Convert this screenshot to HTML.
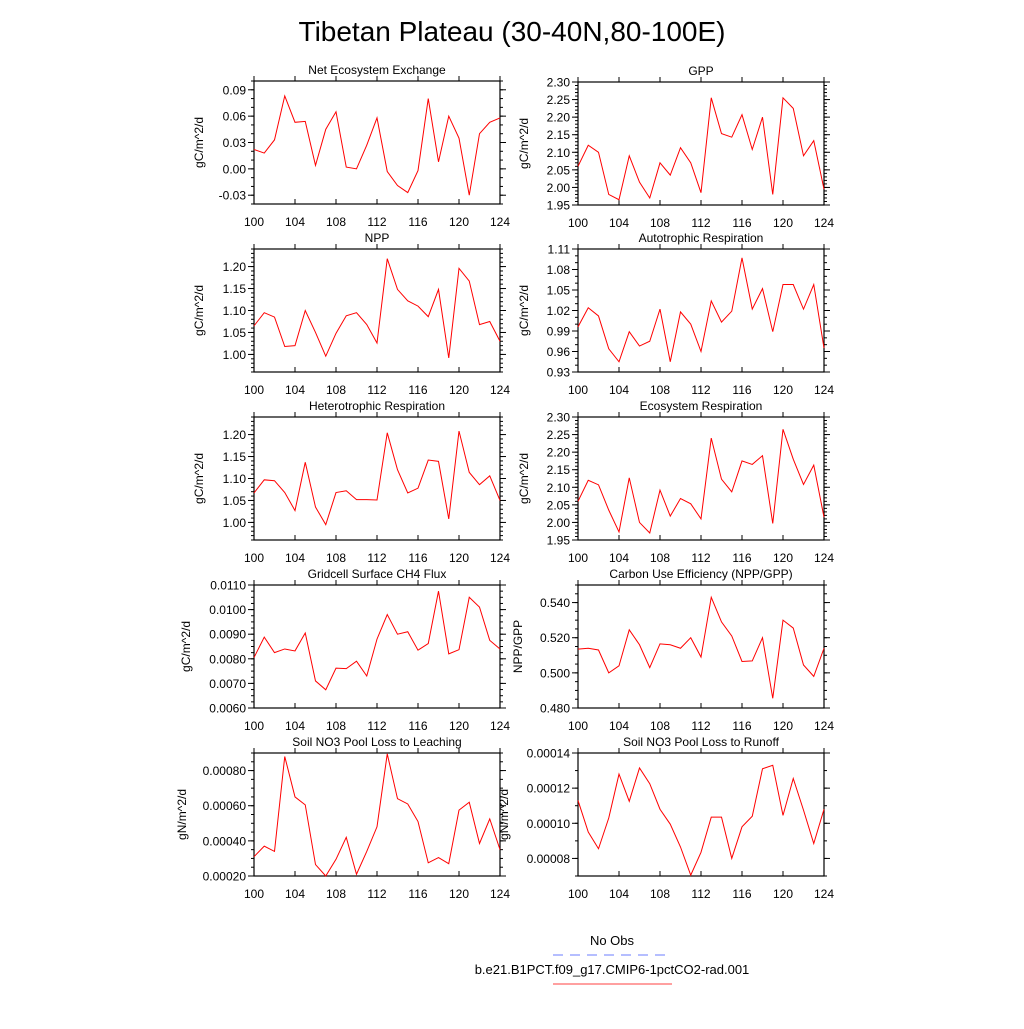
<!DOCTYPE html>
<html><head><meta charset="utf-8"><style>
body{margin:0;background:#fff}
svg text{font-family:"Liberation Sans",sans-serif;fill:#000}
</style></head><body>
<svg id="chart" width="1024" height="1024" viewBox="0 0 1024 1024" xmlns="http://www.w3.org/2000/svg">
<rect width="1024" height="1024" fill="#fff"/>
<text x="512" y="41" font-size="28" text-anchor="middle">Tibetan Plateau (30-40N,80-100E)</text>
<g>
<text x="612" y="945" font-size="13" text-anchor="middle">No Obs</text>
<line x1="553" y1="955" x2="672" y2="955" stroke="#6b7cff" stroke-width="1" stroke-dasharray="10,7"/>
<text x="612" y="974" font-size="13" text-anchor="middle">b.e21.B1PCT.f09_g17.CMIP6-1pctCO2-rad.001</text>
<line x1="553" y1="984" x2="672" y2="984" stroke="#ff4040" stroke-width="1"/>
</g>
</svg>
<script>
const years = [100,101,102,103,104,105,106,107,108,109,110,111,112,113,114,115,116,117,118,119,120,121,122,123,124];
const xTicks = [100,104,108,112,116,120,124];
const neeValues = [0.022,0.018,0.033,0.083,0.053,0.054,0.004,0.045,0.065,0.002,0.000,0.027,0.058,-0.003,-0.019,-0.027,-0.002,0.080,0.008,0.060,0.035,-0.030,0.040,0.053,0.058];
const neeTicks = ["0.09","0.06","0.03","0.00","-0.03"];
const gppValues = [2.06,2.12,2.10,1.98,1.965,2.09,2.015,1.97,2.07,2.035,2.113,2.07,1.985,2.255,2.153,2.143,2.207,2.108,2.20,1.98,2.255,2.225,2.09,2.133,1.995];
const gppTicks = ["2.30","2.25","2.20","2.15","2.10","2.05","2.00","1.95"];
const nppValues = [1.065,1.095,1.085,1.018,1.02,1.10,1.05,0.996,1.048,1.088,1.095,1.068,1.026,1.218,1.148,1.122,1.11,1.086,1.148,0.992,1.196,1.167,1.068,1.075,1.03];
const nppTicks = ["1.20","1.15","1.10","1.05","1.00"];
const arValues = [0.996,1.024,1.012,0.964,0.945,0.989,0.968,0.975,1.022,0.945,1.018,1.0,0.96,1.034,1.003,1.019,1.097,1.022,1.052,0.989,1.058,1.058,1.022,1.058,0.965];
const arTicks = ["1.11","1.08","1.05","1.02","0.99","0.96","0.93"];
const hrValues = [1.067,1.097,1.095,1.068,1.027,1.137,1.035,0.995,1.068,1.072,1.052,1.052,1.051,1.204,1.12,1.067,1.078,1.142,1.139,1.008,1.208,1.114,1.086,1.106,1.05];
const hrTicks = ["1.20","1.15","1.10","1.05","1.00"];
const erValues = [2.06,2.12,2.107,2.035,1.973,2.127,2.0,1.97,2.092,2.018,2.068,2.053,2.01,2.24,2.123,2.087,2.175,2.165,2.19,1.997,2.265,2.18,2.108,2.163,2.015];
const erTicks = ["2.30","2.25","2.20","2.15","2.10","2.05","2.00","1.95"];
const ch4Values = [0.00805,0.00888,0.00825,0.0084,0.00832,0.00905,0.0071,0.00674,0.00762,0.0076,0.0079,0.0073,0.0088,0.0098,0.0090,0.0091,0.00835,0.00862,0.01075,0.0082,0.00837,0.0105,0.0101,0.00875,0.0084];
const ch4Ticks = ["0.0110","0.0100","0.0090","0.0080","0.0070","0.0060"];
const cueValues = [0.5135,0.514,0.513,0.500,0.504,0.5245,0.516,0.503,0.5165,0.516,0.514,0.520,0.509,0.543,0.529,0.521,0.5065,0.5068,0.520,0.4855,0.530,0.5255,0.5045,0.498,0.514];
const cueTicks = ["0.540","0.520","0.500","0.480"];
const leachValues = [0.00031,0.00037,0.00034,0.00088,0.00065,0.000605,0.000265,0.00020,0.000295,0.00042,0.00021,0.00034,0.00048,0.000895,0.00064,0.00061,0.00051,0.000275,0.000305,0.00027,0.000575,0.00062,0.000385,0.000525,0.00035];
const leachTicks = ["0.00080","0.00060","0.00040","0.00020"];
const runoffValues = [0.000113,0.000095,0.0000855,0.000103,0.000128,0.0001125,0.0001315,0.0001225,0.000108,0.0000995,0.0000865,0.0000705,0.0000835,0.0001035,0.0001035,0.00008,0.000098,0.000104,0.000131,0.000133,0.0001045,0.0001255,0.0001075,0.0000885,0.000108];
const runoffTicks = ["0.00014","0.00012","0.00010","0.00008"];

const NS="http://www.w3.org/2000/svg";
const svg=document.getElementById('chart');
function mk(tag,attrs,parent){const e=document.createElementNS(NS,tag);for(const k in attrs)e.setAttribute(k,attrs[k]);parent.appendChild(e);return e;}

const panels=[
 {key:'nee',title:'Net Ecosystem Exchange',ylab:'gC/m^2/d',vals:neeValues,ticks:neeTicks,min:-0.04,max:0.10,minor:0.01,x:254,y:81,lo:55},
 {key:'gpp',title:'GPP',ylab:'gC/m^2/d',vals:gppValues,ticks:gppTicks,min:1.95,max:2.30,minor:0.01,x:578,y:82,lo:54},
 {key:'npp',title:'NPP',ylab:'gC/m^2/d',vals:nppValues,ticks:nppTicks,min:0.96,max:1.24,minor:0.01,x:254,y:249,lo:55},
 {key:'ar',title:'Autotrophic Respiration',ylab:'gC/m^2/d',vals:arValues,ticks:arTicks,min:0.93,max:1.11,minor:0.01,x:578,y:249,lo:54},
 {key:'hr',title:'Heterotrophic Respiration',ylab:'gC/m^2/d',vals:hrValues,ticks:hrTicks,min:0.96,max:1.24,minor:0.01,x:254,y:417,lo:55},
 {key:'er',title:'Ecosystem Respiration',ylab:'gC/m^2/d',vals:erValues,ticks:erTicks,min:1.95,max:2.30,minor:0.01,x:578,y:417,lo:54},
 {key:'ch4',title:'Gridcell Surface CH4 Flux',ylab:'gC/m^2/d',vals:ch4Values,ticks:ch4Ticks,min:0.006,max:0.011,minor:0.00025,x:254,y:585,lo:68},
 {key:'cue',title:'Carbon Use Efficiency (NPP/GPP)',ylab:'NPP/GPP',vals:cueValues,ticks:cueTicks,min:0.48,max:0.55,minor:0.005,x:578,y:585,lo:60},
 {key:'leach',title:'Soil NO3 Pool Loss to Leaching',ylab:'gN/m^2/d',vals:leachValues,ticks:leachTicks,min:0.0002,max:0.0009,minor:0.00005,x:254,y:753,lo:72},
 {key:'runoff',title:'Soil NO3 Pool Loss to Runoff',ylab:'gN/m^2/d',vals:runoffValues,ticks:runoffTicks,min:0.00007,max:0.00014,minor:0.00001,x:578,y:753,lo:74}
];
const W=246,H=123;
panels.forEach(p=>{
 const g=mk('g',{},svg);
 
 
 const xs=v=>p.x+(v-100)/24*W;
 const ys=v=>p.y+H-(v-p.min)/(p.max-p.min)*H;
 const n=Math.round((p.max-p.min)/p.minor);
 for(let i=0;i<=n;i++){const yy=p.y+H-i/n*H;
  mk('line',{x1:p.x-3,y1:yy,x2:p.x,y2:yy,stroke:'#000','stroke-width':1},g);
  mk('line',{x1:p.x+W,y1:yy,x2:p.x+W+3,y2:yy,stroke:'#000','stroke-width':1},g);}
 p.ticks.forEach(t=>{const yy=ys(parseFloat(t));
  mk('line',{x1:p.x-6,y1:yy,x2:p.x,y2:yy,stroke:'#000','stroke-width':1},g);
  mk('line',{x1:p.x+W,y1:yy,x2:p.x+W+6,y2:yy,stroke:'#000','stroke-width':1},g);
  const tx=mk('text',{x:p.x-8,y:yy+4.5,'font-size':12,'text-anchor':'end'},g);
  
  
  tx.textContent=t;});
 xTicks.forEach(t=>{const xx=xs(t);
  mk('line',{x1:xx,y1:p.y+H-5,x2:xx,y2:p.y+H,stroke:'#000','stroke-width':1},g);
  mk('line',{x1:xx,y1:p.y-5,x2:xx,y2:p.y,stroke:'#000','stroke-width':1},g);
  const tx=mk('text',{x:xx,y:p.y+H+22,'font-size':12,'text-anchor':'middle'},g);
  
  
  tx.textContent=t;});
 const box=mk('rect',{x:p.x,y:p.y,width:W,height:H,fill:'none',stroke:'#000','stroke-width':1.2},g);
 
 
 const tt=mk('text',{x:p.x+W/2,y:p.y-7,'font-size':12,'text-anchor':'middle'},g);
 
 
 tt.textContent=p.title;
 const yl=mk('text',{x:0,y:0,'font-size':12,'text-anchor':'middle',transform:`translate(${p.x-p.lo+4},${p.y+H/2}) rotate(-90)`},g);
 
 
 yl.textContent=p.ylab;
 const pts=p.vals.map((v,i)=>xs(years[i]).toFixed(2)+','+ys(v).toFixed(2)).join(' ');
 const ln=mk('polyline',{points:pts,fill:'none',stroke:'#ff0000','stroke-width':1},g);
 
 
});
</script>
</body></html>
